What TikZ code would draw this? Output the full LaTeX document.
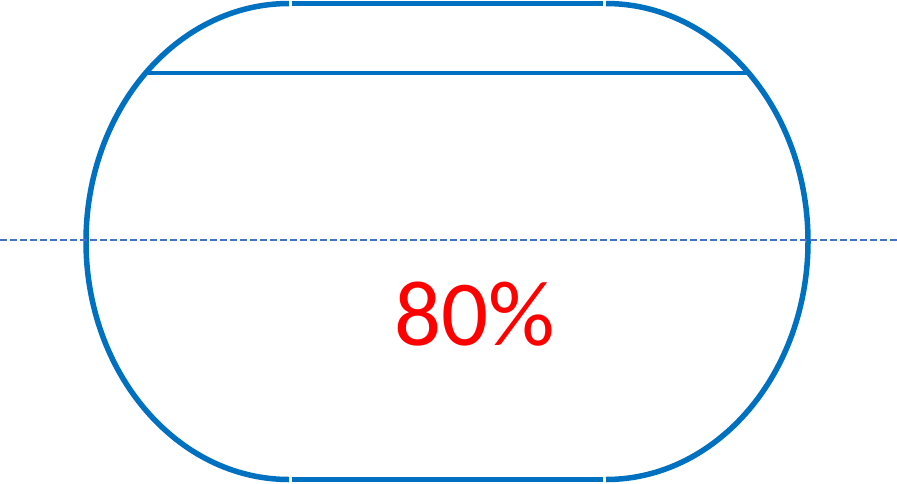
\documentclass[tikz,border=0pt]{standalone}
\usepackage{fontspec}
\setmainfont{Carlito}
\definecolor{shapeblue}{HTML}{0070C0}
\definecolor{dashblue}{HTML}{4472C4}
\definecolor{pctred}{HTML}{FF0000}
\begin{document}
\begin{tikzpicture}[x=1pt,y=-1pt,
  outline/.style={draw=shapeblue,line width=5.5pt},
  chord/.style={draw=shapeblue,line width=4pt},
  axisline/.style={draw=dashblue,line width=1.3pt,dash pattern=on 7pt off 3pt},
  pct/.style={text=pctred,font=\fontsize{93}{93}\selectfont,inner sep=0pt}]
\useasboundingbox (0,0) rectangle (897,483);
% outline: arcs and straight segments
\draw[outline] (289,3.5) arc[start angle=90,end angle=270,x radius=203,y radius=-238];
\draw[outline] (606,3.5) arc[start angle=90,end angle=-90,x radius=202,y radius=-238];
\coordinate (tl) at (292,3.5);
\coordinate (tr) at (603,3.5);
\coordinate (bl) at (292,479.5);
\coordinate (br) at (603,479.5);
\draw[outline] (tl) -- (tr);
\draw[outline] (bl) -- (br);
% chord
\coordinate (cl) at (147,73);
\coordinate (cr) at (748,73);
\draw[chord] (cl) -- (cr);
% dashed axis
\coordinate (al) at (0,240);
\coordinate (ar) at (897,240);
\draw[axisline] (al) -- (ar);
% label
\node[pct,anchor=base] (label) at (475,345) {80\%};
\end{tikzpicture}
\end{document}
